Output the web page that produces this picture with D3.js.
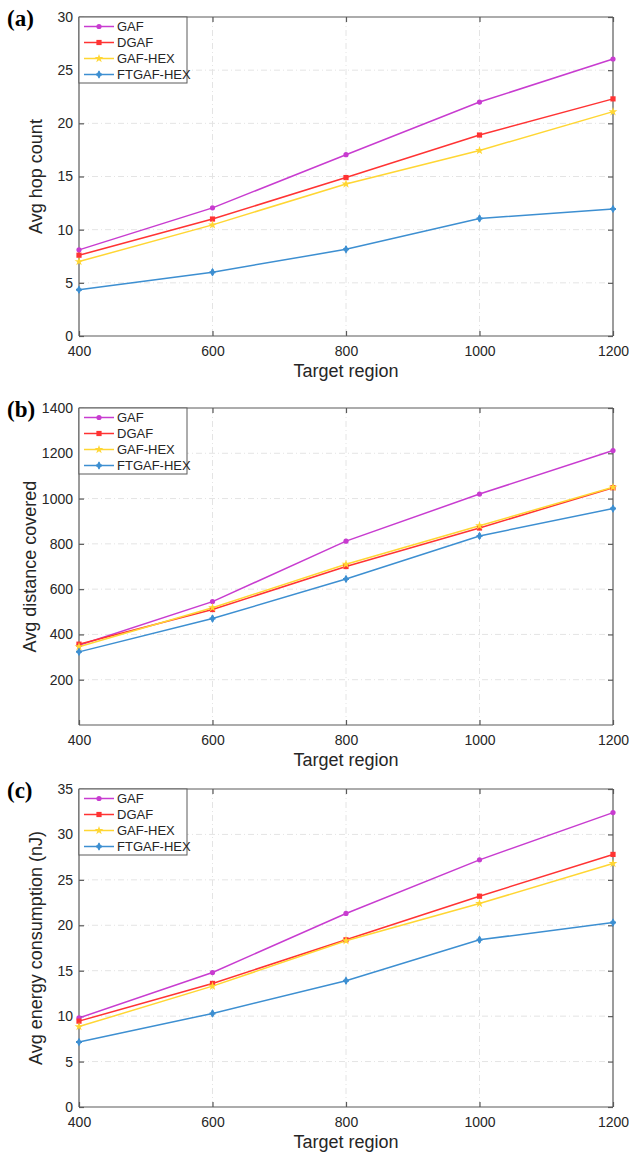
<!DOCTYPE html>
<html><head><meta charset="utf-8">
<script src="https://cdn.jsdelivr.net/npm/d3@7"></script>
<style>body{margin:0;background:#fff;}svg{display:block;}</style>
</head><body>
<svg id="c" width="629" height="1152"></svg>
<script>
const categories = [400, 600, 800, 1000, 1200];
const seriesNames = ["GAF", "DGAF", "GAF-HEX", "FTGAF-HEX"];
const colors = ["#c83cd0", "#ff3333", "#ffd633", "#3d8fd1"];

const hopGAF = [8.1, 12.05, 17.05, 22.0, 26.05];
const hopDGAF = [7.6, 11.0, 14.9, 18.9, 22.3];
const hopGAFHEX = [7.0, 10.45, 14.3, 17.45, 21.1];
const hopFTGAFHEX = [4.35, 6.0, 8.15, 11.05, 11.95];

const distGAF = [352, 545, 812, 1020, 1212];
const distDGAF = [357, 510, 700, 870, 1048];
const distGAFHEX = [346, 518, 710, 880, 1050];
const distFTGAFHEX = [323, 470, 645, 835, 956];

const enGAF = [9.8, 14.8, 21.3, 27.2, 32.4];
const enDGAF = [9.45, 13.6, 18.4, 23.2, 27.8];
const enGAFHEX = [8.85, 13.3, 18.3, 22.4, 26.8];
const enFTGAFHEX = [7.15, 10.3, 13.9, 18.4, 20.3];

const xTicks = [400, 600, 800, 1000, 1200];
const hopTicks = [0, 5, 10, 15, 20, 25, 30];
const distTicks = [200, 400, 600, 800, 1000, 1200, 1400];
const enTicks = [0, 5, 10, 15, 20, 25, 30, 35];

const panels = [
  {tag:"(a)", ylabel:"Avg hop count", top:17, bottom:336, dom:[0,30], ticks:hopTicks, data:[hopGAF,hopDGAF,hopGAFHEX,hopFTGAFHEX]},
  {tag:"(b)", ylabel:"Avg distance covered", top:408, bottom:725, dom:[0,1400], ticks:distTicks, data:[distGAF,distDGAF,distGAFHEX,distFTGAFHEX]},
  {tag:"(c)", ylabel:"Avg energy consumption (nJ)", top:789, bottom:1107, dom:[0,35], ticks:enTicks, data:[enGAF,enDGAF,enGAFHEX,enFTGAFHEX]}
];

const svg = d3.select("#c");
const L = 79, R = 613;
const font = "'Liberation Sans', Arial, sans-serif";
const axisCol = "#5a5a5a";

function marker(g, i, x, y, col){
  if(i===0){ g.append("circle").attr("cx",x).attr("cy",y).attr("r",2.6).attr("fill",col); }
  else if(i===1){ g.append("rect").attr("x",x-2.6).attr("y",y-2.6).attr("width",5.2).attr("height",5.2).attr("fill",col); }
  else if(i===2){ g.append("path").attr("d",d3.symbol(d3.symbolStar,24)()).attr("transform",`translate(${x},${y})`).attr("fill",col); }
  else { g.append("path").attr("d",d3.symbol(d3.symbolDiamond,22)()).attr("transform",`translate(${x},${y})`).attr("fill",col);
         g.append("path").attr("d",d3.symbol(d3.symbolCross,20)()).attr("transform",`translate(${x},${y})`).attr("fill",col); }
}

panels.forEach(p => {
  const x = d3.scaleLinear().domain([400,1200]).range([L,R]);
  const y = d3.scaleLinear().domain(p.dom).range([p.bottom,p.top]);
  const g = svg.append("g");
  // grid
  g.selectAll(".gx").data(xTicks.slice(1,-1)).enter().append("line")
    .attr("x1",d=>x(d)).attr("x2",d=>x(d)).attr("y1",p.top).attr("y2",p.bottom)
    .attr("stroke","#e4e4e4").attr("stroke-width",1).attr("stroke-dasharray","6,3,1,3");
  g.selectAll(".gy").data(p.ticks.filter(t=>t>p.dom[0] && t<p.dom[1])).enter().append("line")
    .attr("y1",d=>y(d)).attr("y2",d=>y(d)).attr("x1",L).attr("x2",R)
    .attr("stroke","#e4e4e4").attr("stroke-width",1).attr("stroke-dasharray","6,3,1,3");
  // axes
  const ax = d3.axisBottom(x).tickValues(xTicks).tickSize(-5).tickPadding(10).tickFormat(d3.format("d"));
  const ay = d3.axisLeft(y).tickValues(p.ticks).tickSize(-5).tickPadding(6).tickFormat(d3.format("d"));
  const gx = g.append("g").attr("transform",`translate(0,${p.bottom})`).call(ax);
  const gy = g.append("g").attr("transform",`translate(${L},0)`).call(ay);
  const gx2 = g.append("g").attr("transform",`translate(0,${p.top})`).call(d3.axisTop(x).tickValues(xTicks).tickSize(-5).tickFormat(""));
  const gy2 = g.append("g").attr("transform",`translate(${R},0)`).call(d3.axisRight(y).tickValues(p.ticks).tickSize(-5).tickFormat(""));
  [gx,gy,gx2,gy2].forEach(a=>{
    a.selectAll("path").attr("stroke",axisCol).attr("stroke-width",1.2);
    a.selectAll("line").attr("stroke",axisCol).attr("stroke-width",1.2);
    a.selectAll("text").attr("fill","#262626").style("font-family",font).style("font-size","14px");
  });
  gx.selectAll(".domain").attr("d",`M${L},0H${R}`);
  gy.selectAll(".domain").attr("d",`M0,${p.top}V${p.bottom}`);
  gx2.selectAll(".domain").attr("d",`M${L},0H${R}`);
  gy2.selectAll(".domain").attr("d",`M0,${p.top}V${p.bottom}`);
  // lines
  const line = d3.line().x((d,i)=>x(categories[i])).y(d=>y(d));
  p.data.forEach((s,i)=>{
    g.append("path").datum(s).attr("d",line).attr("fill","none").attr("stroke",colors[i]).attr("stroke-width",1.5);
  });
  p.data.forEach((s,i)=>{ s.forEach((v,j)=>marker(g,i,x(categories[j]),y(v),colors[i])); });
  // legend
  const lg = g.append("g");
  lg.append("rect").attr("x",L).attr("y",p.top).attr("width",108).attr("height",66)
    .attr("fill","#fff").attr("stroke",axisCol).attr("stroke-width",1);
  seriesNames.forEach((n,i)=>{
    const yy = p.top + 9.5 + i*16;
    lg.append("line").attr("x1",L+5).attr("x2",L+35).attr("y1",yy).attr("y2",yy).attr("stroke",colors[i]).attr("stroke-width",1.5);
    marker(lg,i,L+20,yy,colors[i]);
    lg.append("text").attr("x",L+38).attr("y",yy+4.5).text(n).attr("fill","#262626")
      .style("font-family",font).style("font-size","13px");
  });
  // labels
  svg.append("text").attr("x",(L+R)/2).attr("y",p.bottom+41).attr("text-anchor","middle").text("Target region")
    .attr("fill","#262626").style("font-family",font).style("font-size","18px");
  svg.append("text").attr("transform",`translate(${p.tag==="(b)"?36:42},${(p.top+p.bottom)/2}) rotate(-90)`)
    .attr("text-anchor","middle").text(p.ylabel).attr("fill","#262626").style("font-family",font).style("font-size","18px");
  svg.append("text").attr("x",7).attr("y",p.top+9).text(p.tag).attr("fill","#000")
    .style("font-family","'Liberation Serif','Times New Roman',serif").style("font-size","23px").style("font-weight","bold");
});
</script>
</body></html>
